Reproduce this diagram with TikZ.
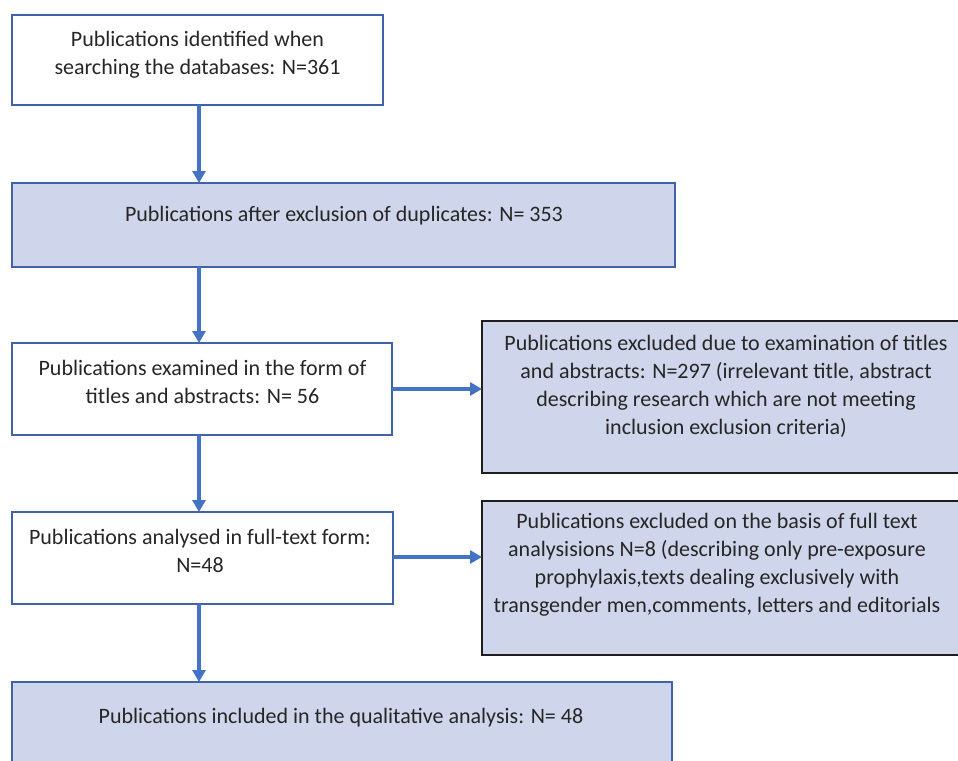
\documentclass[tikz,border=0pt]{standalone}
\usepackage{fontspec}
\setmainfont{Carlito}
\usetikzlibrary{arrows.meta}
\definecolor{bblue}{HTML}{4472C4}
\definecolor{bdark}{HTML}{3F62A8}
\definecolor{lav}{HTML}{CFD5EA}
\definecolor{dk}{HTML}{1E1E1E}
\definecolor{txtc}{HTML}{262626}
\tikzset{
  boxw/.style={draw=bdark, line width=1.6pt, fill=white, anchor=north west, inner sep=0pt, outer sep=0pt},
  boxl/.style={draw=bdark, line width=1.6pt, fill=lav, anchor=north west, inner sep=0pt, outer sep=0pt},
  boxd/.style={draw=dk, line width=1.8pt, fill=lav, anchor=north west, inner sep=0pt, outer sep=0pt},
  txt/.style={align=center, text=txtc, font=\fontsize{22}{28}\selectfont, inner sep=0pt},
  arr/.style={draw=bblue, line width=4.5pt, -{Triangle[width=13pt,length=12pt]}, shorten >=0pt}
}
\begin{document}
\begin{tikzpicture}[x=1pt,y=-1pt]
\useasboundingbox (0,0) rectangle (958,760);
\clip (0,0) rectangle (958,760);
\node[boxw, minimum width=371pt, minimum height=90pt] (b1) at (12,15) {};
\node[boxl, minimum width=663pt, minimum height=84pt] (b2) at (12,183) {};
\node[boxw, minimum width=380pt, minimum height=92pt] (b3) at (12,343) {};
\node[boxd, minimum width=483pt, minimum height=152pt] (b4) at (482,321) {};
\node[boxw, minimum width=381pt, minimum height=92pt] (b5) at (12,512) {};
\node[boxd, minimum width=483pt, minimum height=154pt] (b6) at (482,501) {};
\node[boxl, minimum width=660pt, minimum height=90pt] (b7) at (12,682) {};

\node[txt] (t1) at (197.5,55) {Publications identified when\\searching the databases: N=361};
\node[txt] (t2) at (344,216) {Publications after exclusion of duplicates: N= 353};
\node[txt] (t3) at (202.5,382) {Publications examined in the form of\\titles and abstracts: N= 56};
\node[txt] (t4) at (726,386) {Publications excluded due to examination of titles\\and abstracts: N=297 (irrelevant title, abstract\\describing research which are not meeting\\inclusion exclusion criteria)};
\node[txt] (t5) at (200,550.5) {Publications analysed in full-text form:\\N=48};
\node[txt] (t6) at (717,564.5) {Publications excluded on the basis of full text\\analysisions N=8 (describing only pre-exposure\\prophylaxis,texts dealing exclusively with\\transgender men,comments, letters and editorials};
\node[txt] (t7) at (341,718) {Publications included in the qualitative analysis: N= 48};

\draw[arr] ([xshift=1.5pt]b1.south) -- ([xshift=1.5pt]b1.south |- b2.north);
\draw[arr] ([xshift=-144.5pt]b2.south) -- ([xshift=-144.5pt]b2.south |- b3.north);
\draw[arr] ([xshift=-3pt]b3.south) -- ([xshift=-3pt]b3.south |- b5.north);
\draw[arr] ([xshift=-3.5pt]b5.south) -- ([xshift=-3.5pt]b5.south |- b7.north);
\draw[arr] (b3.east) -- (b3.east -| b4.west);
\draw[arr] ([yshift=1pt]b5.east) -- ([yshift=1pt]b5.east -| b6.west);
\end{tikzpicture}
\end{document}
